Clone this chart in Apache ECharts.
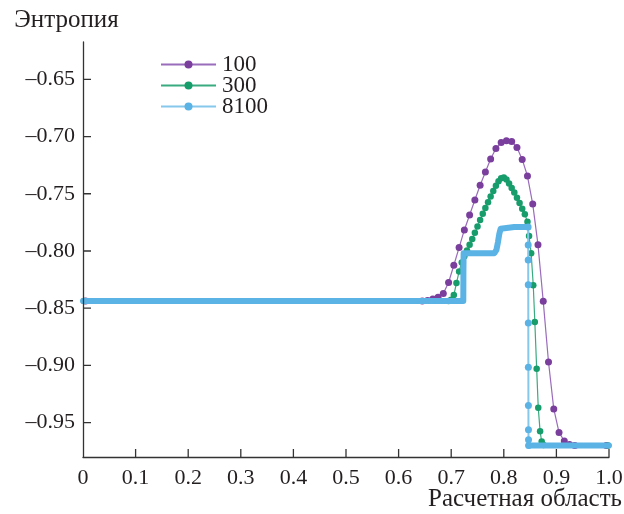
<!DOCTYPE html>
<html><head><meta charset="utf-8">
<script src="https://cdn.jsdelivr.net/npm/echarts@6/dist/echarts.min.js"></script>
<style>html,body{margin:0;padding:0;background:#fff}#c{width:624px;height:514px}</style>
</head><body><div id="c"></div>
<script>
// ---- data ----
var seriesNames = ['100', '300', '8100'];
var xTicks = [0.1, 0.2, 0.3, 0.4, 0.5, 0.6, 0.7, 0.8, 0.9, 1.0];
var yTicks = [-0.95, -0.90, -0.85, -0.80, -0.75, -0.70, -0.65];

// N = 100
var x100 = [0.005, 0.645, 0.655, 0.665, 0.675, 0.685, 0.695, 0.705, 0.715, 0.725, 0.735, 0.745, 0.755, 0.765, 0.775, 0.785, 0.795, 0.805, 0.815, 0.825, 0.835, 0.845, 0.855, 0.865, 0.875, 0.885, 0.895, 0.905, 0.915, 0.925, 0.935, 0.995];
var y100 = [-0.8436, -0.8436, -0.8432, -0.8420, -0.8405, -0.8372, -0.8275, -0.8125, -0.7970, -0.7816, -0.7685, -0.7554, -0.7425, -0.7310, -0.7196, -0.7105, -0.7052, -0.7037, -0.7043, -0.7095, -0.7200, -0.7345, -0.7590, -0.7945, -0.8440, -0.8970, -0.9380, -0.9585, -0.9660, -0.9690, -0.9700, -0.9700];

// N = 300
var x300 = [0.0017, 0.695, 0.700, 0.705, 0.710, 0.715, 0.720, 0.725, 0.730, 0.735, 0.740, 0.745, 0.750, 0.755, 0.760, 0.765, 0.770, 0.775, 0.780, 0.785, 0.790, 0.795, 0.800, 0.805, 0.810, 0.815, 0.820, 0.825, 0.830, 0.835, 0.840, 0.845, 0.848, 0.852, 0.856, 0.859, 0.8625, 0.8655, 0.869, 0.872, 0.8755, 0.9983];
var y300 = [-0.8436, -0.8436, -0.8425, -0.8385, -0.8280, -0.8180, -0.8100, -0.8045, -0.7995, -0.7945, -0.7895, -0.7840, -0.7785, -0.7730, -0.7675, -0.7625, -0.7575, -0.7525, -0.7475, -0.7430, -0.7390, -0.7365, -0.7357, -0.7375, -0.7410, -0.7450, -0.7490, -0.7535, -0.7580, -0.7630, -0.7680, -0.7745, -0.7870, -0.8020, -0.8300, -0.8620, -0.9030, -0.9370, -0.9576, -0.9665, -0.9695, -0.9700];

// N = 8100 : smooth parts (dense points) and the shock (sparse points)
var x8100 = [0.0001, 0.7230, 0.7232, 0.7236, 0.7300, 0.7600, 0.7820, 0.7860, 0.7890, 0.7915, 0.7940, 0.7970, 0.8200, 0.8462, null, 0.8472, 0.9000, 0.9999];
var y8100 = [-0.8436, -0.8436, -0.8200, -0.8020, -0.8020, -0.8020, -0.8020, -0.7990, -0.7920, -0.7850, -0.7805, -0.7790, -0.7790, -0.7790, null, -0.9700, -0.9700, -0.9700];
var x8100s = [0.8462, 0.8464, 0.8464, 0.8465, 0.8466, 0.8467, 0.8468, 0.8469, 0.8470, 0.8472];
var y8100s = [-0.7790, -0.7947, -0.8078, -0.8296, -0.8630, -0.9016, -0.9350, -0.9562, -0.9650, -0.9700];

function pairs(xs, ys) {
  return xs.map(function (x, i) { return x === null ? [null, null] : [x, ys[i]]; });
}

var purple = '#7a3f9d', purpleLine = '#9a6cbc';
var green = '#179c6b', greenLine = '#3aab80';
var blue = '#5ab3e4', blueLine = '#86c8ec';
var txt = '#231f20';
var axisCol = '#333';
var font = '"Liberation Serif", "DejaVu Serif", serif';
var xMin = 0, xMax = 1, yMin = -0.98, yMax = -0.6174;
var plotW = 624 - 83 - 15, plotH = 514 - 42 - 57, tickPx = 8;

// inward tick marks, built from the tick values (segments separated by gaps)
var tickData = [];
xTicks.forEach(function (t) {
  tickData.push([t, yMin], [t, yMin + tickPx * (yMax - yMin) / plotH], [null, null]);
});
yTicks.forEach(function (t) {
  tickData.push([xMin, t], [xMin + tickPx * (xMax - xMin) / plotW, t], [null, null]);
});

var chart = echarts.init(document.getElementById('c'), null, {renderer: 'canvas'});
chart.setOption({
  animation: false,
  backgroundColor: '#fff',
  textStyle: {fontFamily: font, color: txt},
  grid: {show: false, left: 83, right: 15, top: 42, bottom: 57, outerBoundsMode: 'none', containLabel: false},
  legend: {
    data: seriesNames,
    orient: 'vertical',
    left: 155, top: 48,
    padding: 5,
    itemWidth: 55, itemHeight: 10, itemGap: -2,
    textStyle: {fontFamily: font, fontSize: 23, color: txt, padding: [0, 0, 0, 1]}
  },
  xAxis: {
    type: 'value', min: xMin, max: xMax, interval: 0.1, z: 10,
    name: 'Расчетная область', nameLocation: 'end', nameGap: 13, nameMoveOverlap: false,
    nameTextStyle: {fontFamily: font, fontSize: 25, color: txt, align: 'right', verticalAlign: 'top', padding: [30, 0, 0, 0]},
    axisLine: {show: true, lineStyle: {color: axisCol, width: 1.3}},
    axisTick: {show: false},
    splitLine: {show: false},
    axisLabel: {
      fontFamily: font, fontSize: 22, color: txt, margin: 10,
      formatter: function (v) { return v === 0 ? '0' : v.toFixed(1); }
    }
  },
  yAxis: {
    type: 'value', min: yMin, max: yMax, z: 10,
    name: 'Энтропия', nameLocation: 'end', nameGap: 9, nameMoveOverlap: false,
    nameTextStyle: {fontFamily: font, fontSize: 25, color: txt, align: 'center', padding: [0, 33, 0, 0]},
    axisLine: {show: true, lineStyle: {color: axisCol, width: 1.3}},
    axisTick: {show: false},
    splitLine: {show: false},
    axisLabel: {
      fontFamily: font, fontSize: 22, color: txt, margin: 8, customValues: yTicks,
      formatter: function (v) { return '\u2013' + Math.abs(v).toFixed(2); }
    }
  },
  series: [
    {name: 'ticks', type: 'line', data: tickData, showSymbol: false, symbol: 'none', connectNulls: false,
     silent: true, lineStyle: {color: axisCol, width: 1.3}, itemStyle: {color: axisCol}, z: 1},
    {name: '100', type: 'line', data: pairs(x100, y100), symbol: 'circle', symbolSize: 7, showSymbol: true,
     itemStyle: {color: purple}, lineStyle: {color: purpleLine, width: 1.2}, z: 2},
    {name: '300', type: 'line', data: pairs(x300, y300), symbol: 'circle', symbolSize: 6.5, showSymbol: true,
     itemStyle: {color: green}, lineStyle: {color: greenLine, width: 1.2}, z: 3},
    {name: '8100', type: 'line', data: pairs(x8100s, y8100s), symbol: 'circle', symbolSize: 7, showSymbol: true,
     itemStyle: {color: blue}, lineStyle: {color: blueLine, width: 2}, z: 4},
    {name: '8100', type: 'line', data: pairs(x8100, y8100), showSymbol: false, symbol: 'none', connectNulls: false,
     itemStyle: {color: blue}, lineStyle: {color: blue, width: 6, cap: 'round', join: 'round'}, z: 5}
  ]
});
</script></body></html>
